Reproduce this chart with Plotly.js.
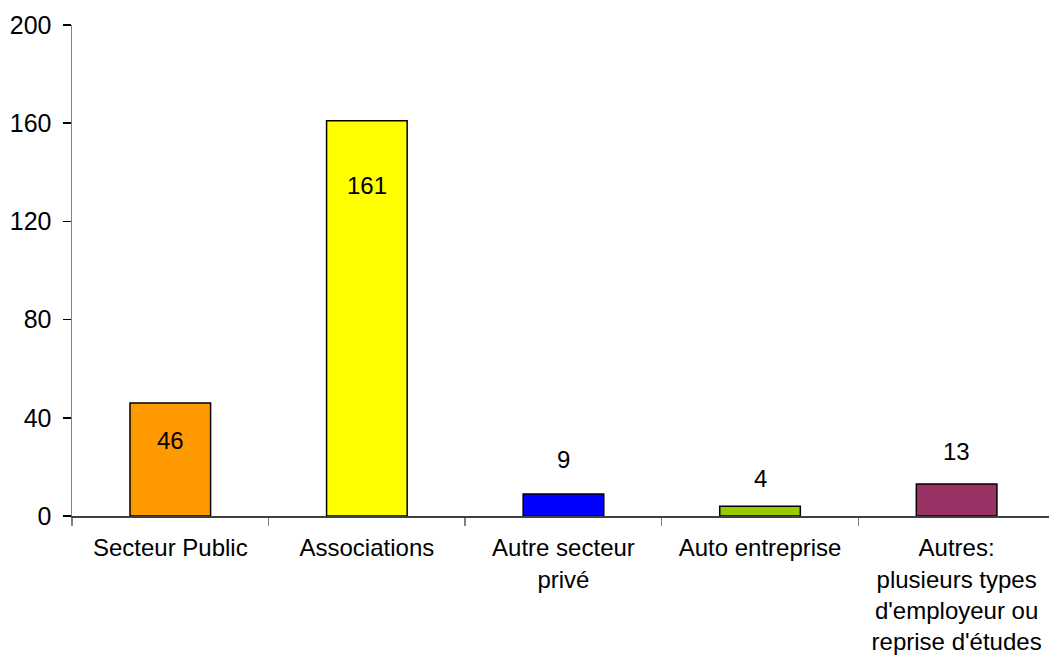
<!DOCTYPE html>
<html><head><meta charset="utf-8">
<script src="https://cdn.plot.ly/plotly-3.0.1.min.js"></script>
<style>html,body{margin:0;padding:0;background:#fff;overflow:hidden}</style>
</head><body><div id="chart" style="width:1049px;height:657px"></div>
<script>
const categories = ["Secteur Public", "Associations", "Autre secteur<br>privé", "Auto entreprise", "Autres:<br>plusieurs types<br>d'employeur ou<br>reprise d'études"];
const values = [46, 161, 9, 4, 13];
const barColors = ["#FF9900", "#FFFF00", "#0000FF", "#99CC00", "#993366"];
const labelShift = [-37, -65, 34, 28, 33];
const yTicks = [0, 40, 80, 120, 160, 200];

const font = "Liberation Sans, Arial, sans-serif";
const trace = {
  type: "bar",
  x: categories,
  y: values,
  width: 0.41,
  marker: {color: barColors, line: {color: "#000", width: 1.5}},
  hoverinfo: "none"
};
const annotations = values.map((v, i) => ({
  x: categories[i], y: v, xref: "x", yref: "y", text: String(v), showarrow: false,
  yanchor: "middle", yshift: labelShift[i],
  font: {family: font, size: 24, color: "#000"}
}));
const layout = {
  width: 1049, height: 657,
  margin: {l: 72, r: 0, t: 25, b: 141},
  paper_bgcolor: "#fff", plot_bgcolor: "#fff",
  showlegend: false,
  font: {family: font, size: 24, color: "#000"},
  xaxis: {
    type: "category", range: [-0.5, 4.47],
    tickson: "boundaries", ticks: "outside", ticklen: 8, tickcolor: "#808080", tickwidth: 1.5,
    ticklabelstandoff: 10,
    showline: true, linecolor: "#404040", linewidth: 1.5, showgrid: false, zeroline: false,
    tickfont: {family: font, size: 24, color: "#000"}, tickangle: 0, fixedrange: true
  },
  yaxis: {
    range: [0, 200], tickmode: "array", tickvals: yTicks, ticktext: yTicks.map(String),
    ticks: "outside", ticklen: 8, tickcolor: "#000", tickwidth: 1.5, ticklabelstandoff: 6,
    showline: true, linecolor: "#808080", linewidth: 1.5, showgrid: false, zeroline: false,
    tickfont: {family: font, size: 25, color: "#000"}, fixedrange: true
  },
  annotations: annotations
};
Plotly.newPlot("chart", [trace], layout, {displayModeBar: false, staticPlot: true});
</script></body></html>
